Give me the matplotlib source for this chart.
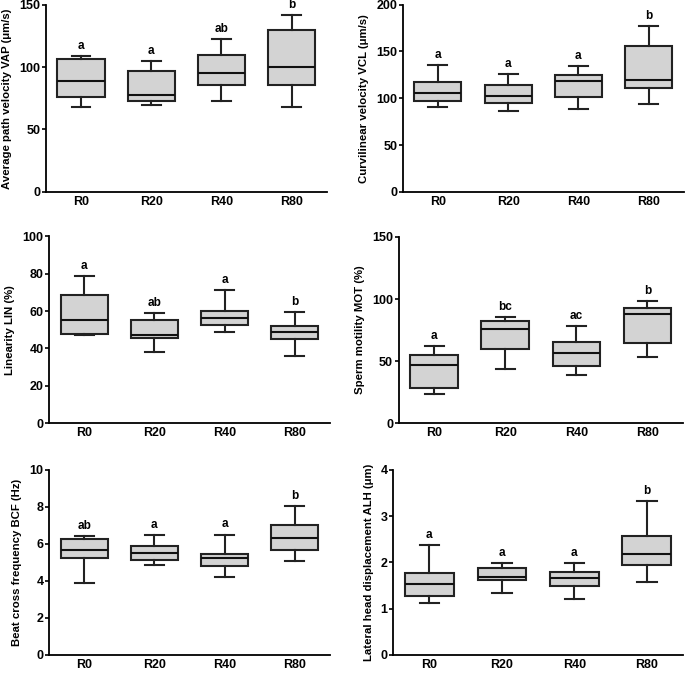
import matplotlib
matplotlib.use("Agg")
import matplotlib.pyplot as plt

plt.rcParams['font.family'] = ['Liberation Sans', 'DejaVu Sans']
plt.rcParams['font.weight'] = 'bold'

groups = ['R0', 'R20', 'R40', 'R80']

# per panel: low whisker, Q1, median, Q3, high whisker
vap_low = [68.3, 69.6, 73.1, 67.8]
vap_q1 = [76.3, 72.9, 85.5, 85.7]
vap_med = [89.2, 77.7, 95.1, 99.9]
vap_q3 = [106.6, 97.0, 109.8, 129.9]
vap_high = [109.0, 105.0, 122.4, 141.4]
vap_letters = ['a', 'a', 'ab', 'b']

vcl_low = [90.4, 86.8, 88.6, 94.3]
vcl_q1 = [97.5, 95.4, 101.8, 111.1]
vcl_med = [105.7, 102.1, 118.6, 119.3]
vcl_q3 = [117.5, 113.9, 124.6, 155.4]
vcl_high = [135.7, 126.0, 134.3, 176.8]
vcl_letters = ['a', 'a', 'a', 'b']

lin_low = [47.0, 38.0, 48.6, 36.2]
lin_q1 = [47.7, 45.4, 52.3, 45.2]
lin_med = [55.4, 47.3, 56.4, 48.8]
lin_q3 = [68.4, 55.0, 60.0, 52.1]
lin_high = [78.6, 58.9, 71.4, 59.6]
lin_letters = ['a', 'ab', 'a', 'b']

mot_low = [23.3, 43.9, 38.8, 53.6]
mot_q1 = [28.7, 60.0, 46.1, 64.6]
mot_med = [46.9, 75.5, 56.3, 87.9]
mot_q3 = [54.9, 82.2, 65.6, 92.4]
mot_high = [62.1, 85.7, 78.0, 98.3]
mot_letters = ['a', 'bc', 'ac', 'b']

bcf_low = [3.89, 4.86, 4.21, 5.05]
bcf_q1 = [5.21, 5.11, 4.80, 5.66]
bcf_med = [5.64, 5.52, 5.21, 6.29]
bcf_q3 = [6.27, 5.88, 5.46, 7.00]
bcf_high = [6.43, 6.46, 6.50, 8.02]
bcf_letters = ['ab', 'a', 'a', 'b']

alh_low = [1.13, 1.34, 1.21, 1.58]
alh_q1 = [1.28, 1.61, 1.49, 1.95]
alh_med = [1.53, 1.69, 1.67, 2.18]
alh_q3 = [1.76, 1.88, 1.80, 2.57]
alh_high = [2.38, 1.99, 1.99, 3.33]
alh_letters = ['a', 'a', 'a', 'b']

panels = [
    ('Average path velocity VAP (μm/s)', vap_low, vap_q1, vap_med, vap_q3, vap_high, vap_letters, 150, 50,
     [0.067, 0.715, 0.410, 0.278]),
    ('Curvilinear velocity VCL (μm/s)', vcl_low, vcl_q1, vcl_med, vcl_q3, vcl_high, vcl_letters, 200, 50,
     [0.588, 0.715, 0.410, 0.278]),
    ('Linearity LIN (%)', lin_low, lin_q1, lin_med, lin_q3, lin_high, lin_letters, 100, 20,
     [0.0715, 0.371, 0.410, 0.278]),
    ('Sperm motility MOT (%)', mot_low, mot_q1, mot_med, mot_q3, mot_high, mot_letters, 150, 50,
     [0.582, 0.371, 0.415, 0.277]),
    ('Beat cross frequency BCF (Hz)', bcf_low, bcf_q1, bcf_med, bcf_q3, bcf_high, bcf_letters, 10, 2,
     [0.0715, 0.027, 0.410, 0.275]),
    ('Lateral head displacement ALH (μm)', alh_low, alh_q1, alh_med, alh_q3, alh_high, alh_letters, 4, 1,
     [0.574, 0.027, 0.423, 0.275]),
]

fig = plt.figure(figsize=(6.85, 6.73), dpi=100)

for label, lo, q1, med, q3, hi, letters, ymax, step, rect in panels:
    ax = fig.add_axes(rect)
    stats = []
    for i in range(len(groups)):
        stats.append({'whislo': lo[i], 'q1': q1[i], 'med': med[i], 'q3': q3[i],
                      'whishi': hi[i], 'fliers': [], 'label': groups[i]})
    ax.bxp(stats, positions=[1, 2, 3, 4], widths=0.67, capwidths=0.27,
           showfliers=False, patch_artist=True,
           boxprops=dict(facecolor='#d3d3d3', edgecolor='#222222', linewidth=1.5),
           medianprops=dict(color='#111111', linewidth=1.5),
           whiskerprops=dict(color='#222222', linewidth=1.5),
           capprops=dict(color='#222222', linewidth=1.5))
    for i, t in enumerate(letters):
        ax.text(i + 1, hi[i] + ymax * 0.022, t, ha='center', va='bottom',
                fontsize=8.5, fontweight='bold')
    ax.set_xlim(0.5, 4.5)
    ax.set_ylim(0, ymax)
    ax.set_yticks(range(0, ymax + 1, step))
    ax.set_ylabel(label, fontsize=8.2, fontweight='bold', labelpad=5)
    ax.spines['top'].set_visible(False)
    ax.spines['right'].set_visible(False)
    for s in ['left', 'bottom']:
        ax.spines[s].set_linewidth(1.3)
    ax.tick_params(axis='y', length=3, width=1.2, labelsize=9, pad=1)
    ax.tick_params(axis='x', length=0, labelsize=9, pad=3)
    for lbl in ax.get_xticklabels() + ax.get_yticklabels():
        lbl.set_fontweight('bold')

fig.savefig('out.png', dpi=100)
